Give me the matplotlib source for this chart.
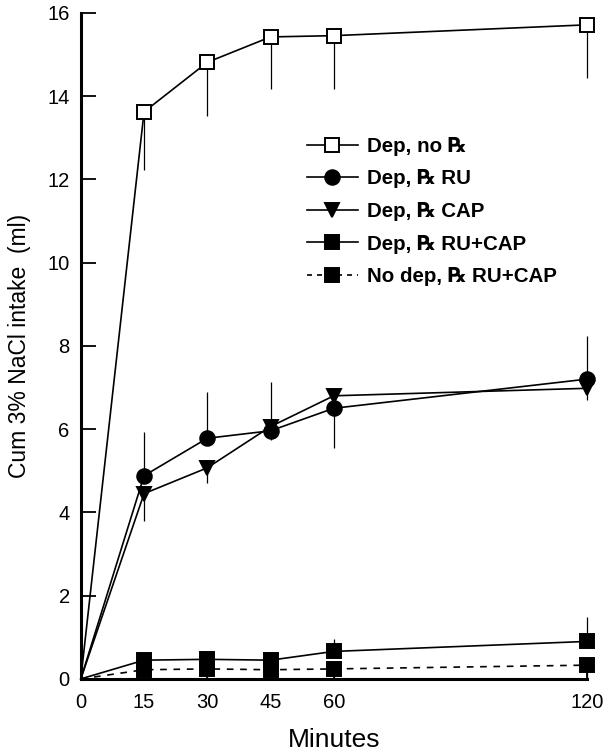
import numpy as np
import matplotlib
matplotlib.use("Agg")
import matplotlib.pyplot as plt
from matplotlib.lines import Line2D

plt.rcParams['font.family'] = ['Liberation Sans', 'DejaVu Sans']

# data
minutes = [0, 15, 30, 45, 60, 120]

dep_no_rx = [0, 13.62, 14.81, 15.42, 15.45, 15.71]
dep_no_rx_lo = [0, 1.40, 1.28, 1.25, 1.28, 1.28]
dep_no_rx_hi = [0, 0, 0, 0, 0, 0]

dep_ru = [0, 4.88, 5.78, 5.96, 6.50, 7.20]
dep_ru_lo = [0, 0, 0, 0, 0.95, 0]
dep_ru_hi = [0, 1.06, 1.10, 1.18, 0, 1.03]

dep_cap = [0, 4.45, 5.07, 6.06, 6.80, 6.98]
dep_cap_lo = [0, 0.65, 0.36, 0.31, 0, 0.28]
dep_cap_hi = [0, 0, 0, 0, 0.14, 0]

dep_rucap = [0, 0.45, 0.47, 0.45, 0.66, 0.90]
dep_rucap_lo = [0, 0, 0, 0, 0, 0]
dep_rucap_hi = [0, 0.20, 0.20, 0.20, 0.30, 0.58]

nodep_rucap = [0, 0.22, 0.24, 0.22, 0.24, 0.33]
nodep_rucap_lo = [0, 0.22, 0.24, 0.22, 0.24, 0.33]
nodep_rucap_hi = [0, 0, 0, 0, 0, 0]

labels = ["Dep, no \u211e", "Dep, \u211e RU", "Dep, \u211e CAP",
          "Dep, \u211e RU+CAP", "No dep, \u211e RU+CAP"]

fig = plt.figure(figsize=(6.03, 7.51), dpi=100)
ax = fig.add_axes([0.134, 0.096, 0.839, 0.887])

series = [
    (dep_no_rx, dep_no_rx_lo, dep_no_rx_hi, 's', 'white', '-', 9.5),
    (dep_ru, dep_ru_lo, dep_ru_hi, 'o', 'black', '-', 10.5),
    (dep_cap, dep_cap_lo, dep_cap_hi, 'v', 'black', '-', 9.5),
    (dep_rucap, dep_rucap_lo, dep_rucap_hi, 's', 'black', '-', 9.5),
    (nodep_rucap, nodep_rucap_lo, nodep_rucap_hi, 's', 'black', '--', 9.5),
]

handles = []
for (y, lo, hi, m, fc, ls, ms), lab in zip(series, labels):
    ax.errorbar(minutes[1:], y[1:], yerr=[lo[1:], hi[1:]], fmt='none',
                ecolor='black', elinewidth=0.9, capsize=0, zorder=2, clip_on=False)
    dash = (4, 4) if ls == '--' else None
    ln, = ax.plot(minutes, y, color='black', lw=1.2, zorder=3, clip_on=False,
                  marker=m, ms=ms, mfc=fc, mec='black', mew=1.4,
                  markevery=list(range(1, len(minutes))))
    if dash:
        ln.set_dashes(dash)
    proxy = Line2D([], [], color='black', lw=1.2, marker=m, ms=ms, mfc=fc,
                   mec='black', mew=1.4)
    if dash:
        proxy.set_dashes((3, 3))
    handles.append(proxy)

ax.set_xlim(0, 120)
ax.set_ylim(0, 16)
ax.set_xticks(minutes)
ax.set_yticks(np.arange(0, 17, 2))
ax.spines['top'].set_visible(False)
ax.spines['right'].set_visible(False)
ax.spines['left'].set_linewidth(2.2)
ax.spines['bottom'].set_linewidth(2.2)
ax.tick_params(axis='y', direction='in', length=11, width=1.3, labelsize=14.5, pad=8)
ax.tick_params(axis='x', direction='in', length=6, width=1.3, labelsize=14.5, pad=10)

ax.set_xlabel("Minutes", fontsize=19, labelpad=12)
ax.set_ylabel("Cum 3% NaCl intake  (ml)", fontsize=16.5, labelpad=12)

leg = ax.legend(handles=handles, labels=labels, loc='upper left',
                bbox_to_anchor=(0.43, 0.826), frameon=False,
                handlelength=2.5, handletextpad=0.45, labelspacing=0.66,
                borderaxespad=0, prop={'weight': 'bold', 'size': 14.8})

fig.savefig("out.png", dpi=100)
